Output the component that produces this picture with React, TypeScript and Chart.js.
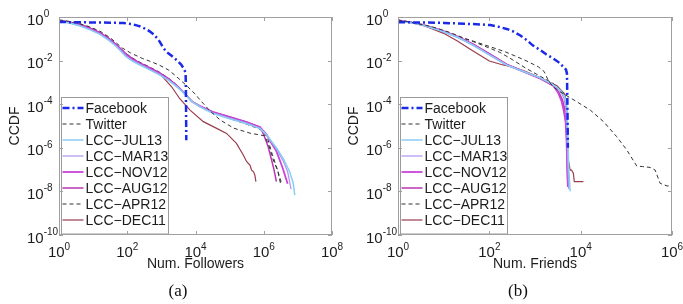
import React, { useEffect, useRef } from "react";
import { Chart, registerables } from "chart.js";
Chart.register(...registerables);

// ---------- DATA (log10 values) ----------
const seriesNames = [
  "Facebook",
  "Twitter",
  "LCC\u2212JUL13",
  "LCC\u2212MAR13",
  "LCC\u2212NOV12",
  "LCC\u2212AUG12",
  "LCC\u2212APR12",
  "LCC\u2212DEC11",
];

// tick exponents
const followersTickExp = [0, 2, 4, 6, 8];
const friendsTickExp = [0, 2, 4, 6];
const ccdfTickExp = [0, -2, -4, -6, -8, -10];

// ----- (a) Num. Followers -----
const fbFolX = [0, 0.5, 1.0, 1.5, 1.9, 2.15, 2.35, 2.5, 2.65, 2.78, 2.88, 2.96, 3.05, 3.15, 3.3, 3.45, 3.58, 3.66, 3.71, 3.72, 3.73];
const fbFolY = [-0.23, -0.24, -0.25, -0.26, -0.28, -0.33, -0.42, -0.52, -0.65, -0.8, -0.98, -1.15, -1.4, -1.6, -1.78, -1.98, -2.18, -2.38, -2.55, -3.5, -5.65];

const twFolX = [0, 0.3, 0.6, 0.9, 1.2, 1.5, 1.85, 2.1, 2.44, 2.7, 2.93, 3.2, 3.42, 3.74, 4.0, 4.13, 4.42, 4.72, 5.12, 5.6, 6.03, 6.15, 6.28, 6.42, 6.52];
const twFolY = [-0.13, -0.2, -0.3, -0.45, -0.65, -0.95, -1.42, -1.65, -1.9, -2.05, -2.2, -2.42, -2.7, -3.15, -3.55, -3.8, -4.3, -4.72, -5.1, -5.33, -5.45, -5.9, -6.56, -7.1, -7.63];

const jul13FolX = [0, 0.3, 0.6, 0.9, 1.2, 1.45, 1.66, 1.8, 1.95, 2.15, 2.34, 2.6, 2.93, 3.2, 3.42, 3.6, 3.9, 4.13, 4.52, 5.0, 5.5, 5.89, 6.08, 6.2, 6.37, 6.57, 6.76, 6.86, 6.91];
const jul13FolY = [-0.2, -0.28, -0.4, -0.58, -0.8, -1.06, -1.33, -1.55, -1.8, -2.02, -2.18, -2.38, -2.64, -2.9, -3.16, -3.4, -3.88, -4.12, -4.43, -4.67, -4.9, -5.12, -5.4, -5.65, -6.0, -6.5, -7.1, -7.6, -8.17];

const mar13FolX = [0, 0.3, 0.6, 0.9, 1.2, 1.45, 1.66, 1.8, 1.95, 2.15, 2.34, 2.6, 2.93, 3.2, 3.42, 3.6, 3.9, 4.13, 4.52, 5.0, 5.5, 5.89, 6.08, 6.2, 6.37, 6.57, 6.7, 6.8];
const mar13FolY = [-0.19, -0.27, -0.39, -0.56, -0.78, -1.03, -1.3, -1.52, -1.77, -1.99, -2.15, -2.35, -2.61, -2.88, -3.14, -3.39, -3.88, -4.1, -4.41, -4.64, -4.87, -5.1, -5.4, -5.68, -6.05, -6.6, -7.1, -7.9];

const nov12FolX = [0, 0.3, 0.6, 0.9, 1.2, 1.45, 1.66, 1.8, 1.95, 2.15, 2.34, 2.6, 2.93, 3.2, 3.42, 3.6, 3.9, 4.13, 4.52, 5.0, 5.5, 5.89, 6.08, 6.2, 6.37, 6.55, 6.7];
const nov12FolY = [-0.18, -0.25, -0.37, -0.53, -0.75, -1.0, -1.27, -1.48, -1.72, -1.95, -2.12, -2.32, -2.58, -2.85, -3.12, -3.38, -3.88, -4.1, -4.38, -4.6, -4.83, -5.06, -5.38, -5.72, -6.15, -6.9, -7.65];

const aug12FolX = [0, 0.3, 0.6, 0.9, 1.2, 1.45, 1.66, 1.8, 1.95, 2.15, 2.34, 2.6, 2.93, 3.2, 3.42, 3.6, 3.9, 4.13, 4.52, 5.0, 5.5, 5.89, 6.0, 6.12, 6.22, 6.3, 6.37];
const aug12FolY = [-0.17, -0.24, -0.35, -0.5, -0.72, -0.97, -1.24, -1.45, -1.68, -1.91, -2.08, -2.28, -2.54, -2.82, -3.1, -3.37, -3.88, -4.08, -4.36, -4.58, -4.82, -5.05, -5.4, -5.9, -6.5, -7.0, -7.55];

const apr12FolX = [0, 0.3, 0.6, 0.9, 1.2, 1.45, 1.66, 1.8, 1.95, 2.15, 2.34, 2.6, 2.93, 3.2, 3.42, 3.6, 3.9, 4.13, 4.52, 5.0, 5.5, 5.89, 6.1, 6.25, 6.4, 6.5];
const apr12FolY = [-0.15, -0.22, -0.34, -0.5, -0.71, -0.96, -1.22, -1.43, -1.66, -1.88, -2.05, -2.25, -2.52, -2.8, -3.08, -3.35, -3.86, -4.1, -4.4, -4.66, -4.92, -5.15, -5.5, -6.3, -7.0, -7.7];

const dec11FolX = [0, 0.3, 0.6, 0.9, 1.2, 1.45, 1.66, 1.95, 2.34, 2.7, 3.0, 3.3, 3.54, 3.71, 3.84, 4.23, 4.62, 4.91, 5.2, 5.4, 5.5, 5.6, 5.64, 5.7, 5.74, 5.77];
const dec11FolY = [-0.15, -0.22, -0.33, -0.5, -0.72, -0.97, -1.25, -1.7, -2.1, -2.4, -2.68, -3.2, -3.75, -4.04, -4.27, -4.8, -5.11, -5.34, -5.8, -6.33, -6.64, -6.8, -7.02, -7.1, -7.25, -7.55];

// ----- (b) Num. Friends -----
const fbFriX = [0, 0.5, 1.0, 1.46, 1.8, 2.02, 2.2, 2.4, 2.53, 2.68, 2.82, 2.95, 3.11, 3.25, 3.4, 3.52, 3.62, 3.68, 3.7, 3.71, 3.72];
const fbFriY = [-0.24, -0.25, -0.27, -0.31, -0.34, -0.37, -0.45, -0.56, -0.67, -0.85, -1.06, -1.3, -1.51, -1.72, -1.9, -2.08, -2.28, -2.42, -2.6, -4.0, -6.0];

const twFriX = [0, 0.3, 0.73, 1.1, 1.46, 1.9, 2.34, 2.77, 3.07, 3.2, 3.3, 3.4, 3.55, 3.91, 4.21, 4.5, 4.79, 5.01, 5.23, 5.35, 5.52, 5.63, 5.74, 5.89, 6.0];
const twFriY = [-0.14, -0.25, -0.44, -0.68, -0.98, -1.28, -1.59, -1.97, -2.28, -2.5, -2.95, -3.2, -3.43, -3.88, -4.27, -4.8, -5.49, -6.1, -6.84, -6.86, -6.9, -7.02, -7.63, -7.75, -7.75];

const jul13FriX = [0, 0.3, 0.55, 0.92, 1.29, 1.65, 2.02, 2.38, 2.75, 3.11, 3.4, 3.55, 3.65, 3.7, 3.72, 3.74, 3.77];
const jul13FriY = [-0.17, -0.27, -0.38, -0.62, -0.92, -1.3, -1.76, -2.2, -2.5, -2.78, -3.1, -3.35, -3.65, -4.1, -5.5, -7.0, -8.0];

const mar13FriX = [0, 0.3, 0.55, 0.92, 1.29, 1.65, 2.02, 2.38, 2.75, 3.11, 3.4, 3.55, 3.63, 3.68, 3.7, 3.72, 3.74];
const mar13FriY = [-0.16, -0.26, -0.37, -0.61, -0.91, -1.29, -1.75, -2.2, -2.5, -2.8, -3.12, -3.4, -3.7, -4.2, -5.5, -7.0, -7.9];

const nov12FriX = [0, 0.3, 0.55, 0.92, 1.29, 1.65, 2.02, 2.38, 2.75, 3.11, 3.4, 3.5, 3.58, 3.63, 3.67, 3.69, 3.7, 3.71, 3.72];
const nov12FriY = [-0.16, -0.26, -0.37, -0.6, -0.9, -1.28, -1.74, -2.2, -2.51, -2.81, -3.15, -3.45, -3.85, -4.3, -4.8, -5.5, -6.5, -7.3, -7.8];

const aug12FriX = [0, 0.3, 0.55, 0.92, 1.29, 1.65, 2.02, 2.38, 2.75, 3.11, 3.4, 3.52, 3.6, 3.65, 3.68, 3.7, 3.71, 3.72];
const aug12FriY = [-0.15, -0.25, -0.36, -0.58, -0.88, -1.25, -1.7, -2.16, -2.5, -2.82, -3.15, -3.45, -3.8, -4.2, -5.0, -6.0, -7.0, -7.6];

const apr12FriX = [0, 0.3, 0.6, 1.0, 1.3, 1.65, 2.02, 2.23, 2.5, 2.8, 3.1, 3.4, 3.6, 3.68, 3.7, 3.72, 3.74];
const apr12FriY = [-0.14, -0.24, -0.4, -0.65, -0.88, -1.13, -1.44, -1.62, -1.95, -2.35, -2.7, -3.05, -3.4, -3.75, -5.0, -7.0, -7.7];

const dec11FriX = [0, 0.3, 0.6, 1.0, 1.3, 1.6, 2.0, 2.3, 2.53, 2.8, 3.18, 3.48, 3.66, 3.7, 3.72, 3.73, 3.77, 3.8, 3.84, 3.86, 3.88, 4.06];
const dec11FriY = [-0.15, -0.25, -0.42, -0.75, -1.1, -1.5, -2.02, -2.2, -2.3, -2.5, -2.85, -3.15, -3.55, -4.5, -6.0, -6.56, -7.02, -7.02, -7.17, -7.55, -7.55, -7.55];

const followersX = [fbFolX, twFolX, jul13FolX, mar13FolX, nov12FolX, aug12FolX, apr12FolX, dec11FolX];
const followersY = [fbFolY, twFolY, jul13FolY, mar13FolY, nov12FolY, aug12FolY, apr12FolY, dec11FolY];
const friendsX = [fbFriX, twFriX, jul13FriX, mar13FriX, nov12FriX, aug12FriX, apr12FriX, dec11FriX];
const friendsY = [fbFriY, twFriY, jul13FriY, mar13FriY, nov12FriY, aug12FriY, apr12FriY, dec11FriY];

// ---------- STYLES ----------
const seriesStyles = [
  { color: "#1a2ae8", width: 2.5, dash: [7, 3, 2, 3] },
  { color: "#333333", width: 1, dash: [4, 3] },
  { color: "#87cdf5", width: 1.5, dash: [] as number[] },
  { color: "#b093f0", width: 1.2, dash: [] as number[] },
  { color: "#c845d8", width: 1.8, dash: [] as number[] },
  { color: "#bb35b5", width: 1.5, dash: [] as number[] },
  { color: "#333333", width: 1, dash: [4, 3] },
  { color: "#9a3d4d", width: 1.2, dash: [] as number[] },
];

const SANS = '"Liberation Sans", Arial, sans-serif';
const SERIF = '"Liberation Serif", "Times New Roman", serif';
const TEXT = "#1c1c1c";
const FRAME = "#a0a0a0";

function decorPlugin(xTickExp: number[], xTitle: string, caption: string) {
  return {
    id: "decor",
    afterDatasetsDraw(chart: any) {
      const { ctx, chartArea: a } = chart;
      ctx.save();
      const bx = a.left + 2.5;
      const by = a.top + 80.5;
      const bw = 107;
      const bh = a.bottom - 1 - by;
      ctx.fillStyle = "#ffffff";
      ctx.fillRect(bx, by, bw, bh);
      ctx.strokeStyle = "#9a9a9a";
      ctx.lineWidth = 1;
      ctx.strokeRect(bx, by, bw, bh);
      seriesNames.forEach((name, i) => {
        const cy = a.top + 91 + 16 * i;
        const st = seriesStyles[i];
        ctx.strokeStyle = st.color;
        ctx.lineWidth = st.width;
        ctx.setLineDash(st.dash);
        ctx.beginPath();
        ctx.moveTo(bx + 1, cy);
        ctx.lineTo(bx + 22, cy);
        ctx.stroke();
        ctx.setLineDash([]);
        ctx.fillStyle = TEXT;
        ctx.font = `14px ${SANS}`;
        ctx.textAlign = "left";
        ctx.textBaseline = "alphabetic";
        ctx.fillText(name, bx + 24, cy + 5);
      });
      ctx.restore();
    },
    afterDraw(chart: any) {
      const { ctx, chartArea: a, scales } = chart;
      const xs = scales.x;
      const ys = scales.y;
      ctx.save();
      ctx.strokeStyle = FRAME;
      ctx.lineWidth = 1;
      ctx.setLineDash([]);
      ctx.strokeRect(a.left + 0.5, a.top + 0.5, a.right - a.left - 1, a.bottom - a.top - 1);
      // tick marks
      ctx.beginPath();
      xTickExp.forEach((e) => {
        const px = Math.round(xs.getPixelForValue(Math.pow(10, e))) + 0.5;
        ctx.moveTo(px, a.bottom);
        ctx.lineTo(px, a.bottom - 4);
        ctx.moveTo(px, a.top);
        ctx.lineTo(px, a.top + 4);
      });
      ccdfTickExp.forEach((e) => {
        const py = Math.round(ys.getPixelForValue(Math.pow(10, e))) + 0.5;
        ctx.moveTo(a.left, py);
        ctx.lineTo(a.left + 4, py);
        ctx.moveTo(a.right, py);
        ctx.lineTo(a.right - 4, py);
      });
      ctx.stroke();

      ctx.fillStyle = TEXT;
      ctx.textBaseline = "alphabetic";
      ctx.textAlign = "left";
      // x tick labels
      xTickExp.forEach((e) => {
        const px = xs.getPixelForValue(Math.pow(10, e));
        ctx.font = `15px ${SANS}`;
        const wb = ctx.measureText("10").width;
        ctx.font = `10px ${SANS}`;
        const sup = String(e);
        const ws = ctx.measureText(sup).width;
        const x0 = px - (wb + ws) / 2;
        const base = a.bottom + 22;
        ctx.font = `15px ${SANS}`;
        ctx.fillText("10", x0, base);
        ctx.font = `10px ${SANS}`;
        ctx.fillText(sup, x0 + wb, base - 7.5);
      });
      // y tick labels
      ccdfTickExp.forEach((e) => {
        const py = ys.getPixelForValue(Math.pow(10, e));
        const x0 = a.left - 32;
        ctx.font = `15px ${SANS}`;
        const wb = ctx.measureText("10").width;
        ctx.fillText("10", x0, py + 7.5);
        ctx.font = `10px ${SANS}`;
        ctx.fillText(String(e), x0 + wb, py);
      });
      // axis titles
      ctx.font = `14px ${SANS}`;
      ctx.textAlign = "center";
      ctx.fillText(xTitle, (a.left + a.right) / 2, a.bottom + 33);
      ctx.save();
      ctx.translate(a.left - 44, (a.top + a.bottom) / 2);
      ctx.rotate(-Math.PI / 2);
      ctx.textBaseline = "middle";
      ctx.fillText("CCDF", 0, 0);
      ctx.restore();
      // caption
      ctx.font = `17px ${SERIF}`;
      ctx.textAlign = "center";
      ctx.fillStyle = "#111";
      ctx.fillText(caption, 178, 296);
      ctx.restore();
    },
  };
}

type PanelProps = {
  left: number;
  width: number;
  xsData: number[][];
  ysData: number[][];
  xMaxExp: number;
  xTickExp: number[];
  xTitle: string;
  caption: string;
  padLeft: number;
  padRight: number;
};

function Panel(p: PanelProps) {
  const ref = useRef<HTMLCanvasElement | null>(null);
  useEffect(() => {
    if (!ref.current) return;
    const datasets = seriesNames.map((name, i) => ({
      label: name,
      data: p.xsData[i].map((lx, k) => ({ x: Math.pow(10, lx), y: Math.pow(10, p.ysData[i][k]) })),
      borderColor: seriesStyles[i].color,
      borderWidth: seriesStyles[i].width,
      borderDash: seriesStyles[i].dash,
      pointRadius: 0,
      fill: false,
      tension: 0,
    }));
    const chart = new Chart(ref.current, {
      type: "line",
      data: { datasets },
      plugins: [decorPlugin(p.xTickExp, p.xTitle, p.caption)],
      options: {
        animation: false,
        responsive: false,
        devicePixelRatio: 1,
        layout: { padding: { left: p.padLeft, right: p.padRight, top: 17, bottom: 69 } },
        plugins: { legend: { display: false }, tooltip: { enabled: false } },
        scales: {
          x: { type: "logarithmic", display: false, min: 1, max: Math.pow(10, p.xMaxExp) },
          y: { type: "logarithmic", display: false, min: 1e-10, max: 1 },
        },
      } as any,
    } as any);
    return () => chart.destroy();
  }, []);
  return (
    <canvas
      ref={ref}
      width={p.width}
      height={304}
      style={{ position: "absolute", left: p.left, top: 0, display: "block", width: p.width, height: 304 }}
    />
  );
}

export default function App() {
  return (
    <div style={{ position: "absolute", left: 0, top: 0, width: 683, height: 304, background: "#fff", overflow: "hidden" }}>
      <Panel
        left={0}
        width={362}
        xsData={followersX}
        ysData={followersY}
        xMaxExp={8}
        xTickExp={followersTickExp}
        xTitle="Num. Followers"
        caption="(a)"
        padLeft={59}
        padRight={30}
      />
      <Panel
        left={340}
        width={343}
        xsData={friendsX}
        ysData={friendsY}
        xMaxExp={6}
        xTickExp={friendsTickExp}
        xTitle="Num. Friends"
        caption="(b)"
        padLeft={58}
        padRight={11}
      />
    </div>
  );
}
